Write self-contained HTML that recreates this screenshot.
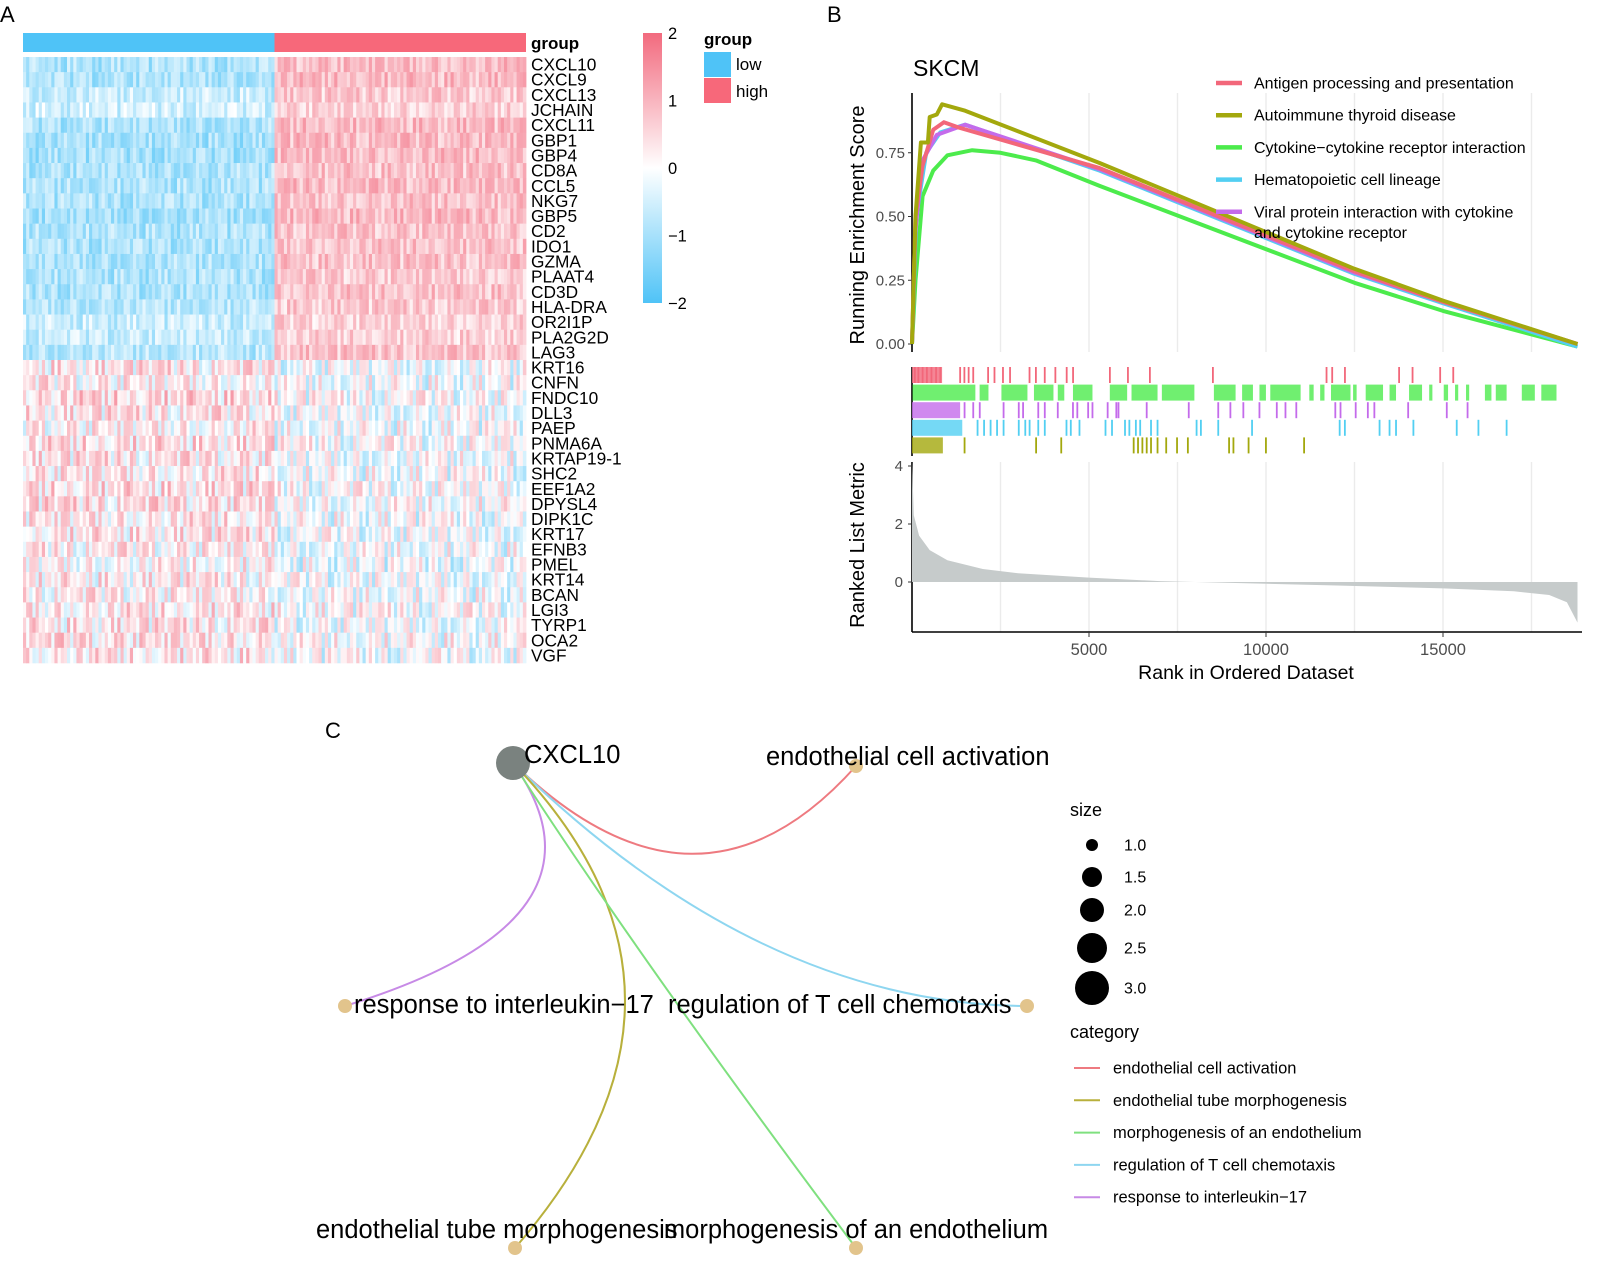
<!DOCTYPE html>
<html><head><meta charset="utf-8"><style>
html,body{margin:0;padding:0;background:#fff;}
svg{display:block;font-family:"Liberation Sans",Arial,sans-serif;}
</style></head><body>
<svg id="fig" width="1600" height="1272" viewBox="0 0 1600 1272">
<g id="panelA"></g>
<g id="panelB"></g>
<g id="panelC"></g>
</svg>
<script>
// ---------- Panel A data ----------
const genes=["CXCL10","CXCL9","CXCL13","JCHAIN","CXCL11","GBP1","GBP4","CD8A","CCL5","NKG7","GBP5","CD2","IDO1","GZMA","PLAAT4","CD3D","HLA-DRA","OR2I1P","PLA2G2D","LAG3","KRT16","CNFN","FNDC10","DLL3","PAEP","PNMA6A","KRTAP19-1","SHC2","EEF1A2","DPYSL4","DIPK1C","KRT17","EFNB3","PMEL","KRT14","BCAN","LGI3","TYRP1","OCA2","VGF"];
const lowMeans=[-0.9,-0.9,-0.6,-0.5,-0.9,-1.0,-1.0,-0.9,-0.9,-0.9,-1.0,-0.9,-0.9,-0.9,-0.9,-0.9,-0.8,-0.6,-0.6,-0.8,0.3,0.2,0.5,0.3,0.2,0.4,0.3,0.3,0.4,0.4,0.3,0.3,0.2,0.1,0.2,0.2,0.3,0.3,0.4,0.3];
const highMeans=[0.9,0.9,0.7,0.6,0.9,0.9,0.9,0.8,0.9,0.8,0.9,0.8,0.8,0.8,0.7,0.8,0.7,0.6,0.6,0.8,-0.1,-0.1,0.0,-0.1,-0.1,0.0,-0.1,-0.1,0.0,0.0,-0.1,-0.1,-0.1,-0.2,-0.1,-0.1,0.0,-0.1,0.0,-0.1];
const noise=[0.3,-0.6,0.9,-0.2,0.5,-0.9,0.1,0.7,-0.4,0.2,-0.8,0.6,-0.1,0.4,-0.7,0.8,-0.3,0.0,0.6,-0.5,0.2,-1.0,0.5,0.1,-0.6,0.9,-0.2,0.3,-0.8,0.4,0.7,-0.4,0.0,-0.7,0.6,-0.1,0.2];
const nLow=80, nHigh=80;
const cbTicks=[2,1,0,-1,-2];
// ---------- Panel B data ----------
const esRanks={
 red:[0,100,300,600,900,1300,5300,12500,15000,18800],
 olive:[0,100,250,450,500,700,850,1500,5300,12500,15000,18800],
 green:[0,100,300,600,1000,1700,2500,3500,5300,12500,15000,18800],
 blue:[0,120,400,800,1500,5300,12500,15000,18800],
 purple:[0,100,300,700,1500,5300,12500,15000,18800]};
const esVals={
 red:[0,0.5,0.7,0.84,0.87,0.85,0.69,0.285,0.165,0],
 olive:[0,0.5,0.79,0.79,0.89,0.9,0.94,0.915,0.71,0.295,0.17,0],
 green:[0,0.25,0.58,0.68,0.74,0.76,0.75,0.72,0.62,0.24,0.13,-0.01],
 blue:[0,0.5,0.75,0.83,0.86,0.68,0.275,0.16,-0.01],
 purple:[0,0.45,0.72,0.82,0.86,0.685,0.28,0.165,0]};
const seriesOrder=["red","olive","green","blue","purple"];
const seriesColor={red:"#F2677A",olive:"#A3A80D",green:"#4CEB4C",blue:"#52CFF2",purple:"#C46BEB"};
const seriesLabel={red:["Antigen processing and presentation"],olive:["Autoimmune thyroid disease"],green:["Cytokine\u2212cytokine receptor interaction"],blue:["Hematopoietic cell lineage"],purple:["Viral protein interaction with cytokine","and cytokine receptor"]};
const barcodeTicks={
 red:[80,180,300,420,550,680,800,1360,1480,1600,1730,2150,2330,2570,2770,3320,3500,3750,4050,4370,4550,5590,6100,6720,8500,11710,11870,12230,13760,14140,14920,15290],
 green:[],
 purple:[1485,1730,1914,2587,3016,3138,3567,3751,4118,4547,4670,4976,5098,5527,5772,5833,6630,7818,8651,8994,9360,9815,10305,10550,10856,11958,12105,12534,12877,13061,14016,15107,15694],
 blue:[1852,2036,2220,2403,2587,3016,3200,3322,3567,3751,4364,4486,4731,5466,5650,6017,6140,6324,6446,6752,6936,8039,8161,8651,9606,12081,12228,13208,13490,13673,14164,15388,16001,16797],
 olive:[1485,3506,4216,6262,6385,6508,6630,6752,6936,7181,7487,7793,8957,9080,9508,9998,11076]};
const barcodeSegments={
 red:[[0,850]],
 green:[[15,1790],[1910,2160],[2526,3261],[3445,3996],[4118,4302],[4547,5098],[5588,6078],[6201,6936],[7058,7977],[8528,9141],[9325,9631],[9815,9998],[10121,10978],[11223,11346],[11530,11652],[11836,12387],[12460,12560],[12816,13306],[13490,13673],[14041,14408],[14610,14700],[15021,15143],[15340,15430],[15650,15740],[16184,16368],[16491,16797],[17226,17594],[17777,18206]],
 purple:[[0,1360]],
 blue:[[0,1420]],
 olive:[[0,872]]};
const barcodeRowOrder=["red","green","purple","blue","olive"];
const metricRanks=[0,50,200,500,1000,2000,3000,5000,7000,9000,12000,15000,17000,18000,18500,18800];
const metricVals=[4.2,2.3,1.6,1.1,0.75,0.45,0.3,0.15,0.03,-0.03,-0.12,-0.22,-0.32,-0.45,-0.7,-1.4];
const esTicks=[0,0.25,0.5,0.75];
const metricTicks=[0,2,4];
const rankTicks=[5000,10000,15000];
// ---------- Panel C data ----------
const termNames=["endothelial cell activation","response to interleukin\u221217","regulation of T cell chemotaxis","endothelial tube morphogenesis","morphogenesis of an endothelium"];
const termColors=["#EE7A80","#C78AE6","#8ED6F0","#B8B03C","#7FE07F"];
const sizeLevels=[1.0,1.5,2.0,2.5,3.0];

const NS="http://www.w3.org/2000/svg";
function mk(parent,tag,attrs,text){const e=document.createElementNS(NS,tag);for(const k in attrs)e.setAttribute(k,attrs[k]);if(text!==undefined)e.textContent=text;parent.appendChild(e);return e;}

// ===== Panel A =====
(function(){
 const g=document.getElementById('panelA');
 const x0=23,x1=526,y0=57,y1=663,nR=genes.length,nC=nLow+nHigh;
 const cw=(x1-x0)/nC,rh=(y1-y0)/nR;
 function col(v){v=Math.max(-2,Math.min(2,v));let t=Math.abs(v)/2;
  let c=v<0?[79,195,247]:[242,106,126];
  return `rgb(${Math.round(255+(c[0]-255)*t)},${Math.round(255+(c[1]-255)*t)},${Math.round(255+(c[2]-255)*t)})`;}
 let t=mk(g,'text',{x:0,y:22,'font-size':22},'A');
 
 let lb=mk(g,'rect',{x:x0,y:33,width:nLow*cw,height:19,fill:'#4FC3F7'});
 
 let hb=mk(g,'rect',{x:x0+nLow*cw,y:33,width:nHigh*cw,height:19,fill:'#F7687A'});
 
 let gt=mk(g,'text',{x:531,y:49,'font-size':17,'font-weight':'bold'},'group');
 
 for(let r=0;r<nR;r++){
  const amp=r<20?0.55:0.95;
  for(let c=0;c<nC;c++){
   const m=c<nLow?lowMeans[r]:highMeans[r];
   const v=m+amp*noise[(c*7+r*11+((c*c)%5))%noise.length];
   const cell=mk(g,'rect',{x:(x0+c*cw).toFixed(2),y:(y0+r*rh).toFixed(2),width:(cw+0.4).toFixed(2),height:(rh+0.3).toFixed(2),fill:col(v)});
   
   
  }
  const gl=mk(g,'text',{x:531,y:(y0+(r+0.5)*rh+6).toFixed(1),'font-size':17.3},genes[r]);
  
  
 }
 const defs=mk(g,'defs',{});const lg=mk(defs,'linearGradient',{id:'cbg',x1:0,y1:0,x2:0,y2:1});
 mk(lg,'stop',{offset:'0',  'stop-color':'#F26A7E'});mk(lg,'stop',{offset:'0.5','stop-color':'#FFFFFF'});mk(lg,'stop',{offset:'1','stop-color':'#4FC3F7'});
 const cb=mk(g,'rect',{x:643,y:33,width:19,height:270,fill:'url(#cbg)'});
 
 cbTicks.forEach(v=>{const y=33+(2-v)/4*270;
  const tl=mk(g,'text',{x:668,y:y+6,'font-size':16.5},v<0?'\u2212'+Math.abs(v):String(v));
  });
 const lt=mk(g,'text',{x:704,y:45,'font-size':17,'font-weight':'bold'},'group');
 
 const k1=mk(g,'rect',{x:704,y:52,width:27,height:25,fill:'#4FC3F7'});
 
 const k2=mk(g,'rect',{x:704,y:78,width:27,height:25,fill:'#F7687A'});
 
 const t1=mk(g,'text',{x:736,y:70,'font-size':17},'low');
 const t2=mk(g,'text',{x:736,y:97,'font-size':17},'high');
})();

// ===== Panel B =====
(function(){
 const g=document.getElementById('panelB');
 const X0=912,XR=1582,PX=0.0354;
 const xs=r=>X0+r*PX;
 const ys=v=>344-v*255;
 const ym=v=>582-v*29;
 let t=mk(g,'text',{x:827,y:22,'font-size':22},'B');
 for(let r=2500;r<=17500;r+=2500){[[93,352],[462,632]].forEach(([a,b])=>{
  const l=mk(g,'line',{x1:xs(r),x2:xs(r),y1:a,y2:b,stroke:'#EBEBEB','stroke-width':1.4});
  });}
 const st=mk(g,'text',{x:913,y:76,'font-size':23},'SKCM');
 const ax=mk(g,'line',{x1:X0,x2:X0,y1:93,y2:352,stroke:'#000','stroke-width':1.6});
 esTicks.forEach(v=>{const tk=mk(g,'line',{x1:X0-4,x2:X0,y1:ys(v),y2:ys(v),stroke:'#333'});
  const tl=mk(g,'text',{x:X0-7,y:ys(v)+5,'font-size':15,'text-anchor':'end',fill:'#4D4D4D'},v.toFixed(2));});
 const yt=mk(g,'text',{x:0,y:0,'font-size':20,'text-anchor':'middle',transform:'translate(864,225) rotate(-90)'},'Running Enrichment Score');
 
 ["green","blue","purple","red","olive"].forEach(k=>{
  const d=esRanks[k].map((r,i)=>(i?'L':'M')+xs(r).toFixed(1)+','+ys(esVals[k][i]).toFixed(1)).join('');
  const p=mk(g,'path',{d:d,fill:'none',stroke:seriesColor[k],'stroke-width':4,'stroke-linejoin':'round'});
  });
 seriesOrder.forEach((k,i)=>{const y=83+i*32.2;
  const ll=mk(g,'line',{x1:1216,x2:1242,y1:y,y2:y,stroke:seriesColor[k],'stroke-width':4.5});
  
  seriesLabel[k].forEach((s,j)=>{const tx=mk(g,'text',{x:1254,y:y+5.5+j*20.5,'font-size':16},s);
   });});
 const ax2=mk(g,'line',{x1:X0,x2:X0,y1:367,y2:456,stroke:'#000','stroke-width':1.6});
 barcodeRowOrder.forEach((k,i)=>{const y=367+i*17.6;
  barcodeSegments[k].forEach(([a,b])=>{const s=mk(g,'rect',{x:xs(a),y:y,width:Math.max(1.5,xs(b)-xs(a)),height:16,fill:seriesColor[k],opacity:0.8});
   });
  barcodeTicks[k].forEach(r=>{const l=mk(g,'line',{x1:xs(r),x2:xs(r),y1:y,y2:y+16,stroke:seriesColor[k],'stroke-width':1.8});
   });});
 const ax3=mk(g,'line',{x1:X0,x2:X0,y1:462,y2:632,stroke:'#000','stroke-width':1.6});
 const ax4=mk(g,'line',{x1:X0,x2:XR,y1:632,y2:632,stroke:'#000','stroke-width':1.6});
 let d='M'+xs(0)+','+ym(0);
 metricRanks.forEach((r,i)=>{d+='L'+xs(r).toFixed(1)+','+ym(metricVals[i]).toFixed(1);});
 d+='L'+xs(metricRanks[metricRanks.length-1]).toFixed(1)+','+ym(0)+'Z';
 const ar=mk(g,'path',{d:d,fill:'#C6CBCB'});
 metricTicks.forEach(v=>{const tk=mk(g,'line',{x1:X0-4,x2:X0,y1:ym(v),y2:ym(v),stroke:'#333'});
  const tl=mk(g,'text',{x:X0-9,y:ym(v)+5,'font-size':15,'text-anchor':'end',fill:'#4D4D4D'},String(v));});
 rankTicks.forEach(r=>{const tk=mk(g,'line',{x1:xs(r),x2:xs(r),y1:632,y2:637,stroke:'#333'});
  const tl=mk(g,'text',{x:xs(r),y:655,'font-size':16.5,'text-anchor':'middle',fill:'#4D4D4D'},String(r));});
 const xt=mk(g,'text',{x:1246,y:679,'font-size':19.5,'text-anchor':'middle'},'Rank in Ordered Dataset');
 const mt=mk(g,'text',{x:0,y:0,'font-size':20,'text-anchor':'middle',transform:'translate(864,545) rotate(-90)'},'Ranked List Metric');
})();

// ===== Panel C =====
(function(){
 const g=document.getElementById('panelC');
 const hub=[513,763];
 const termPos=[[856,766],[345,1006],[1027,1006],[515,1248],[856,1248]];
 const ctrl=[[698,943],[625,920],[760,1005],[736,994],[640,960]];
 let t=mk(g,'text',{x:325,y:738,'font-size':22},'C');
 termPos.forEach((p,i)=>{const e=mk(g,'path',{d:`M${hub[0]},${hub[1]}Q${ctrl[i][0]},${ctrl[i][1]} ${p[0]},${p[1]}`,fill:'none',stroke:termColors[i],'stroke-width':2});
  });
 termPos.forEach((p,i)=>{const n=mk(g,'circle',{cx:p[0],cy:p[1],r:7,fill:'#E2C48C'});
  });
 const h=mk(g,'circle',{cx:hub[0],cy:hub[1],r:17,fill:'#7A827F'});
 const labels=[[524,763,'start',"CXCL10"],[766,765,'start',termNames[0]],[354,1013,'start',termNames[1]],[668,1013,'start',termNames[2]],[316,1238,'start',termNames[3]],[856,1238,'middle',termNames[4]]];
 labels.forEach(l=>{const tx=mk(g,'text',{x:l[0],y:l[1],'font-size':25.5,'text-anchor':l[2]},l[3]);
  });
 const sz=mk(g,'text',{x:1070,y:816,'font-size':18},'size');
 const sy=[845,877,910,948,988],sr=[6,10,12,15,17];
 sizeLevels.forEach((v,i)=>{const c=mk(g,'circle',{cx:1092,cy:sy[i],r:sr[i],fill:'#000'});
  const tl=mk(g,'text',{x:1124,y:sy[i]+5.5,'font-size':16},v.toFixed(1));});
 const ct=mk(g,'text',{x:1070,y:1038,'font-size':18},'category');
 const order=[0,3,4,2,1];
 order.forEach((k,i)=>{const y=1068+i*32.3;
  const l=mk(g,'line',{x1:1074,x2:1100,y1:y,y2:y,stroke:termColors[k],'stroke-width':2});
  const tl=mk(g,'text',{x:1113,y:y+5.5,'font-size':16.5},termNames[k]);});
})();
</script>
</body></html>
